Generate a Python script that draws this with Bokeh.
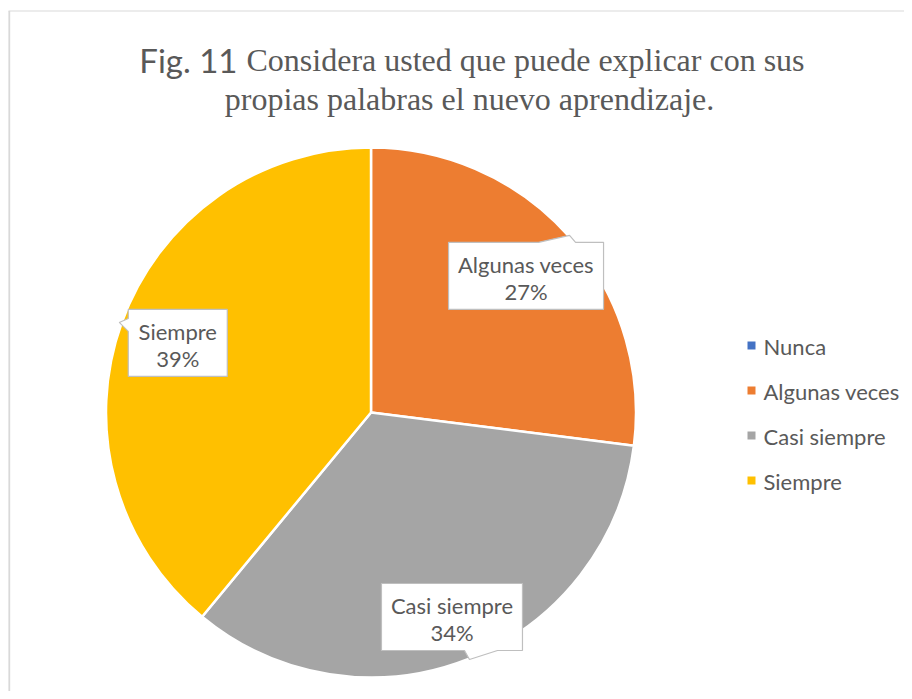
import math
from bokeh.plotting import figure
from bokeh.models import Range1d, ColumnDataSource
from bokeh.core.properties import value
from bokeh.embed import file_html
from bokeh.resources import INLINE

# ---------------- data ----------------
categories = ["Nunca", "Algunas veces", "Casi siempre", "Siempre"]
percentages = [0, 27, 34, 39]
colors = ["#4472C4", "#ED7D31", "#A5A5A5", "#FFC000"]
title_prefix = "Fig. 11"
title_line1 = "Considera usted que puede explicar con sus"
title_line2 = "propias palabras el nuevo aprendizaje."

# ---------------- layout helpers (picture pixel coords) ----------------
W, H = 904, 691
TS = 7  # text baseline correction (pixels upward)


def Y(py):
    return H - py


TXT = "#595959"
SANS = "Lato"
SERIF = "Liberation Serif"

p = figure(width=W, height=H, x_range=Range1d(0, W), y_range=Range1d(0, H),
           output_backend="svg", toolbar_location=None, min_border=0,
           x_axis_location=None, y_axis_location=None, outline_line_color=None)
p.grid.visible = False
p.background_fill_color = "white"
p.border_fill_color = "white"

# chart frame (top and left edges visible)
p.line(x=[8, W], y=[Y(10.5), Y(10.5)], line_color="#d9d9d9", line_width=1.2)
p.line(x=[8.8, 8.8], y=[Y(10.5), 0], line_color="#d9d9d9", line_width=1.8)

# ---------------- title ----------------
p.text(x=[237], y=[Y(66) + TS], text=[title_prefix], text_font=value(SANS), text_font_size="33px",
       text_color=TXT, text_align="right", text_baseline="alphabetic")
p.text(x=[246], y=[Y(66) + TS], text=[title_line1], text_font=value(SERIF), text_font_size="32px",
       text_color=TXT, text_align="left", text_baseline="alphabetic")
p.text(x=[469], y=[Y(105) + TS], text=[title_line2], text_font=value(SERIF), text_font_size="32px",
       text_color=TXT, text_align="center", text_baseline="alphabetic")

# ---------------- pie ----------------
CX, CY, R = 370.5, Y(412), 265
total = float(sum(percentages))
starts, ends = [], []
cum = 0.0
for v in percentages:
    a0 = math.pi / 2 - 2 * math.pi * cum / total
    cum += v
    a1 = math.pi / 2 - 2 * math.pi * cum / total
    starts.append(a0)
    ends.append(a1)

idx = [i for i, v in enumerate(percentages) if v > 0]
src = ColumnDataSource(dict(
    x=[CX] * len(idx), y=[CY] * len(idx),
    start=[starts[i] for i in idx], end=[ends[i] for i in idx],
    color=[colors[i] for i in idx]))
p.wedge(x="x", y="y", radius=R, start_angle="start", end_angle="end", direction="clock",
        fill_color="color", line_color="white", line_width=2.5, source=src)

# ---------------- data labels (callouts) ----------------
label_frac = {1: 0.78, 2: 0.83, 3: 0.775}
box_hw = {1: 77.5, 2: 70.5, 3: 49.5}
HH = 33.5


def callout(i, hw):
    if i == 1:   # pointer on top edge
        return [(-hw, HH), (12.5, HH), (43.5, HH + 7), (49.5, HH), (hw, HH), (hw, -HH), (-hw, -HH)]
    if i == 2:   # pointer on bottom edge
        return [(-hw, HH), (hw, HH), (hw, -HH), (45.5, -HH), (17.5, -HH - 9), (12.5, -HH), (-hw, -HH)]
    # pointer on left edge
    return [(-hw, HH), (hw, HH), (hw, -HH), (-hw, -HH), (-hw, 11.5), (-hw - 9, 20.5), (-hw, 24.5)]


for i in idx:
    mid = (starts[i] + ends[i]) / 2
    ax = CX + label_frac[i] * R * math.cos(mid)
    ay = CY + label_frac[i] * R * math.sin(mid)
    pts = callout(i, box_hw[i])
    p.patch(x=[ax + dx for dx, dy in pts], y=[ay + dy for dx, dy in pts],
            fill_color="white", line_color="#bfbfbf", line_width=1.2)
    p.text(x=[ax], y=[ay + 4.5 + TS], text=[categories[i]], text_font=value(SANS),
           text_font_size="22px", text_color=TXT, text_align="center", text_baseline="alphabetic")
    p.text(x=[ax], y=[ay - 22.5 + TS], text=[f"{percentages[i]}%"], text_font=value(SANS),
           text_font_size="22px", text_color=TXT, text_align="center", text_baseline="alphabetic")

# ---------------- legend ----------------
LX, LY0, LDY = 751, 345, 45
leg = ColumnDataSource(dict(
    x=[LX] * len(categories),
    y=[Y(LY0 + k * LDY) for k in range(len(categories))],
    ty=[Y(LY0 + 7.5 + k * LDY) + TS for k in range(len(categories))],
    tx=[LX + 12] * len(categories),
    color=colors, label=categories))
p.rect(x="x", y="y", width=8, height=8, fill_color="color", line_color=None, source=leg)
p.text(x="tx", y="ty", text="label", text_font=value(SANS), text_font_size="22px",
       text_color=TXT, text_align="left", text_baseline="alphabetic", source=leg)

open("out.html", "w").write(file_html(p, INLINE))
